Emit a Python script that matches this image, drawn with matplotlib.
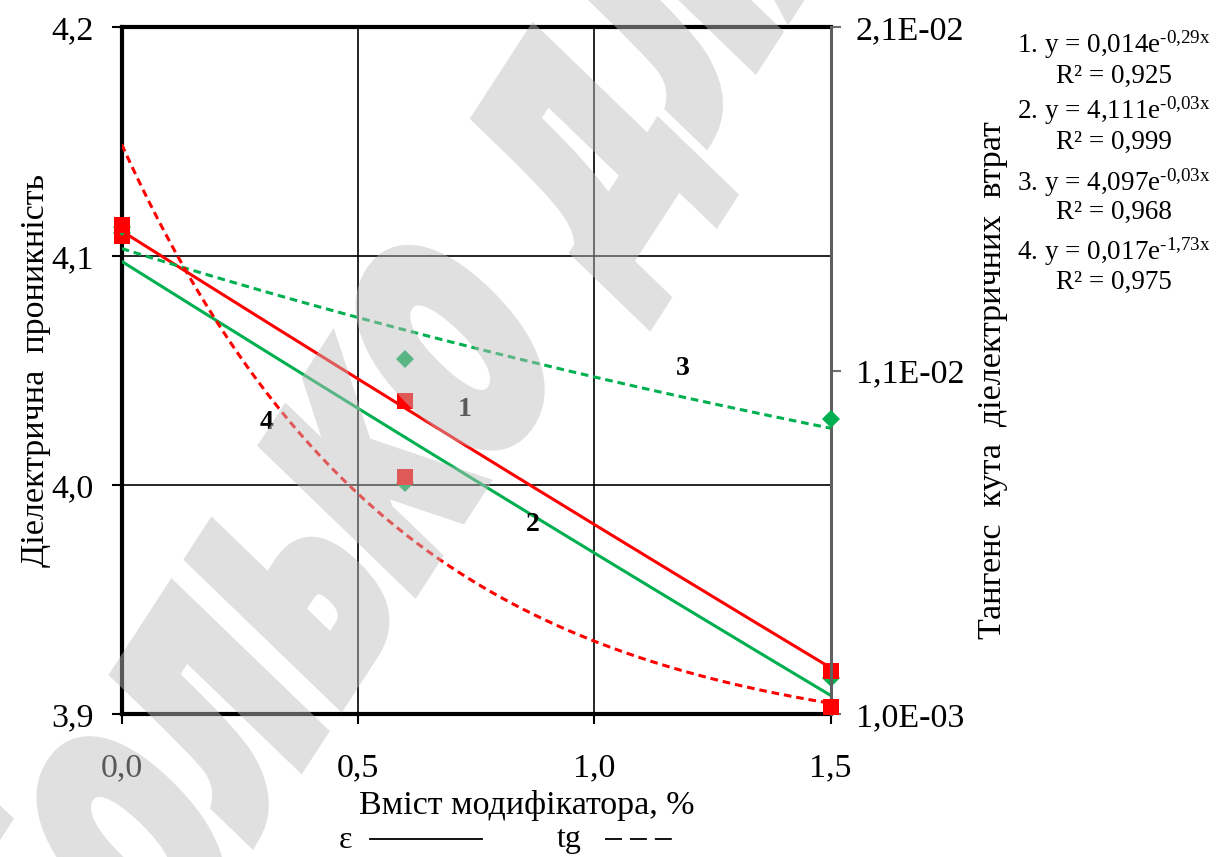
import numpy as np
import matplotlib.pyplot as plt
from matplotlib.lines import Line2D
from matplotlib.patches import PathPatch
from matplotlib.textpath import TextPath
from matplotlib.font_manager import FontProperties
from matplotlib.transforms import Affine2D
from matplotlib.ticker import FixedLocator, FuncFormatter

plt.rcParams['font.family'] = ['Liberation Serif', 'DejaVu Serif']
plt.rcParams['mathtext.fontset'] = 'custom'
plt.rcParams['mathtext.rm'] = 'Liberation Serif'
plt.rcParams['mathtext.it'] = 'Liberation Serif:italic'

# modifier content, %
content = [0.0, 0.6, 1.5]

# dielectric permittivity
eps_red = [4.109, 4.037, 3.919]
eps_green = [4.110, 4.001, 3.916]

# dielectric loss tangent
tg_red = [0.01525, 0.00792, 0.00120]
tg_green = [0.01520, 0.01134, 0.00960]

x_ticks = [0.0, 0.5, 1.0, 1.5]
eps_ticks = [3.9, 4.0, 4.1, 4.2]
tg_ticks = [0.001, 0.011, 0.021]

fit_lines = ['1. y = 0,014e$^{\\mathrm{\u20100{,}29x}}$', 'R² = 0,925',
             '2. y = 4,111e$^{\\mathrm{\u20100{,}03x}}$', 'R² = 0,999',
             '3. y = 4,097e$^{\\mathrm{\u20100{,}03x}}$', 'R² = 0,968',
             '4. y = 0,017e$^{\\mathrm{\u20101{,}73x}}$', 'R² = 0,975']
curve_names = ['1', '2', '3', '4']

RED = '#ff0000'
GREEN = '#00b050'


def exp_trend(x, y):
    # exponential trendline the same way a spreadsheet does it: linear fit of ln(y)
    b, ln_a = np.polyfit(x, np.log(y), 1)
    xs = np.linspace(min(x), max(x), 200)
    return xs, np.exp(ln_a + b * xs)


def comma(v, fmt):
    return fmt.format(v).replace('.', ',')


def fade(im, dpi):
    # stamp is drawn opaque, then made see-through as a whole
    im = im.copy()
    im[..., 3] *= 0.475
    return im, 0, 0


W, H = 1224, 857
fig = plt.figure(figsize=(W / 100, H / 100), dpi=100)
ax = fig.add_axes([121.7 / W, 1 - 714.3 / H, 709 / W, 687 / H])
ax2 = ax.twinx()

# permittivity, solid trendlines
xs, ys = exp_trend(content, eps_green)
ax.plot(xs, ys, color=GREEN, lw=2.2, zorder=3)
xs, ys = exp_trend(content, eps_red)
ax.plot(xs, ys, color=RED, lw=2.2, zorder=3)
ax.plot(content, eps_green, 'D', color=GREEN, ms=9, mew=0, zorder=4, clip_on=False)
ax.plot(content, eps_red, 's', color=RED, ms=11.5, mew=0, zorder=5, clip_on=False)

# loss tangent, dashed trendlines
xs, ys = exp_trend(content, tg_green)
ax2.plot(xs, ys, color=GREEN, lw=2.2, ls=(0, (2.5, 1.6)), zorder=3)
xs, ys = exp_trend(content, tg_red)
ax2.plot(xs, ys, color=RED, lw=2.2, ls=(0, (2.5, 1.6)), zorder=3)
ax2.plot(content, tg_green, 'D', color=GREEN, ms=9, mew=0, zorder=4, clip_on=False)
ax2.plot(content, tg_red, 's', color=RED, ms=11.5, mew=0, zorder=5, clip_on=False)

ax.set_xlim(0, 1.5)
ax.set_ylim(3.9, 4.2)
ax2.set_ylim(0.001, 0.021)

ax.xaxis.set_major_locator(FixedLocator(x_ticks))
ax.yaxis.set_major_locator(FixedLocator(eps_ticks))
ax2.yaxis.set_major_locator(FixedLocator(tg_ticks))
ax.xaxis.set_major_formatter(FuncFormatter(lambda v, p: comma(v, '{:.1f}')))
ax.yaxis.set_major_formatter(FuncFormatter(lambda v, p: comma(v, '{:.1f}')))
ax2.yaxis.set_major_formatter(FuncFormatter(lambda v, p: comma(v, '{:.1E}')))

ax.grid(True, color='black', lw=1.2)
ax.set_axisbelow(True)

ax.tick_params(axis='x', direction='out', length=7, width=1.5, pad=21, labelsize=24.5)
ax.tick_params(axis='y', direction='out', length=7, width=1.5, pad=13, labelsize=24.5)
ax2.tick_params(axis='y', direction='out', length=7, width=1.5, pad=11, labelsize=24.5,
                color='#6f6f6f')

for side in ['left', 'bottom', 'top']:
    ax.spines[side].set_linewidth(3)
for side in ['left', 'bottom', 'top']:
    ax2.spines[side].set_visible(False)
ax2.spines['right'].set_color('#5f5f5f')
ax2.spines['right'].set_linewidth(2.2)
ax.spines['right'].set_visible(False)

ax.set_xlabel('Вміст модифікатора, %', fontsize=24.5)
ax.xaxis.set_label_coords(0.572, -0.11)
ax.set_ylabel('Діелектрична  проникність', fontsize=24.5)
ax.yaxis.set_label_coords(-0.10, 0.5)
ax2.set_ylabel('Тангенс  кута  діелектричних  втрат', fontsize=24.5)
ax2.yaxis.set_label_coords(1.207, 0.487)

# curve numbers
label_pos = [(0.726, 4.0329), (0.870, 3.9827), (1.187, 4.0512), (0.307, 4.0276)]
for name, (lx, ly) in zip(curve_names, label_pos):
    ax.text(lx, ly, name, fontsize=20, fontweight='bold', ha='center', va='center', zorder=6)

# fitted equations
eq_y = [45, 76, 111, 142, 183, 212, 252, 282]
for s, yy in zip(fit_lines, eq_y):
    fig.text(1114 / W, 1 - yy / H, s, fontsize=19.5, ha='center', va='center')

# line style key under the axis
fig.text(345 / W, 1 - 841 / H, 'ε', fontsize=23, ha='center', va='center')
fig.add_artist(Line2D([370 / W, 482 / W], [1 - 839 / H] * 2, color='black', lw=1.3))
fig.text(569 / W, 1 - 840 / H, 'tg', fontsize=23, ha='center', va='center')
fig.add_artist(Line2D([605 / W, 672 / W], [1 - 839 / H] * 2, color='black', lw=1.3,
                      ls=(0, (9.4, 4.4))))

# grey stamp across the page
wm_text = 'Только для'
wm_font = FontProperties(family=['DejaVu Sans'], weight='bold')
tp = TextPath((0, 0), wm_text, size=1, prop=wm_font)
pre = TextPath((0, 0), 'Тольк', size=1, prop=wm_font).get_extents()
o_box = TextPath((0, 0), 'о', size=1, prop=wm_font).get_extents()
anchor = np.array([pre.x1 + o_box.width / 2 + 0.03, o_box.height / 2])
shape = Affine2D().scale(0.58 * 370, 370).skew_deg(11, 0).rotate_deg(57)
ax_, ay_ = shape.transform(anchor)
shape = shape.translate(443 - ax_, (H - 349) - ay_)
stamp = PathPatch(tp, transform=shape, facecolor='#bebebe', edgecolor='#bebebe',
                  lw=10, joinstyle='miter', zorder=20)
stamp.set_agg_filter(fade)
fig.add_artist(stamp)

fig.savefig('out.png', dpi=100)
